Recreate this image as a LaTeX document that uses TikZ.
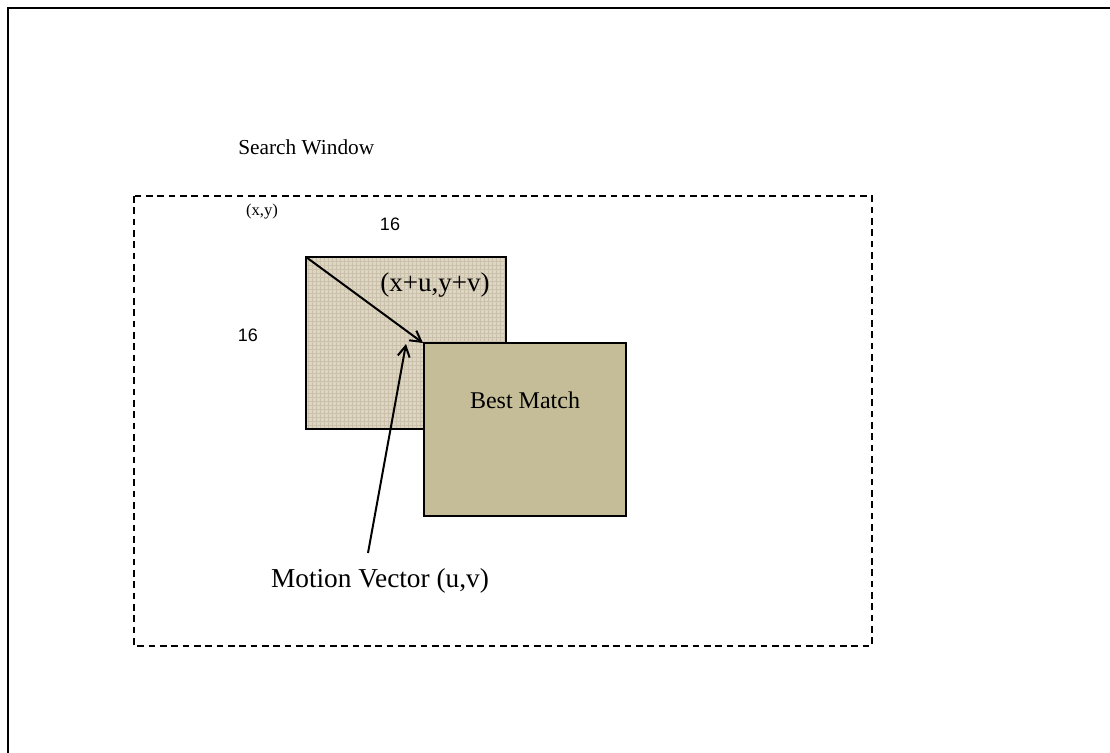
\documentclass[tikz,border=0pt]{standalone}
\usepackage{fontspec}
\setmainfont{Liberation Serif}
\newfontfamily\arialfont{Liberation Sans}
\usetikzlibrary{arrows.meta,patterns}
\definecolor{burlap}{HTML}{DED6C5}
\definecolor{burlapline}{HTML}{CBC1AA}
\definecolor{matchfill}{HTML}{C4BD97}
\tikzset{
  serif/.style={font=\fontsize{#1}{#1}\selectfont, inner sep=0pt},
  sans/.style={font=\arialfont\fontsize{#1}{#1}\selectfont, inner sep=0pt},
  vec/.style={line width=1.5pt, -{Straight Barb[length=8pt,width=9pt]}},
  blockbox/.style={draw=black, line width=1pt},
}
\begin{document}
\begin{tikzpicture}[x=0.75pt,y=-0.75pt]
\useasboundingbox (0,0) rectangle (1110,753);
% outer frame (right and bottom edges lie beyond the picture)
\draw[line width=1.6pt] (8,760) -- (8,8) -- (1120,8);
% search window
\draw[line width=1.1pt, dash pattern=on 5pt off 3.5pt] (134,196) rectangle (872,646);
\node[serif=16pt, anchor=west] (sw) at (238,147) {Search Window};
% 16x16 block
\path[fill=burlap] (306,257) rectangle (506,429);
\path[pattern=grid, pattern color=burlapline] (306,257) rectangle (506,429);
\draw[blockbox] (306,257) rectangle (506,429);
\coordinate (orig) at (306,257);
% best match
\draw[blockbox, fill=matchfill] (424,343) rectangle (626,516);
\coordinate (bm) at (423,343);
\coordinate (bmtip) at (406,344);
\node[serif=18pt] (bmlabel) at (525,400) {Best Match};
% labels
\node[serif=12.5pt] (xy) at (262,212) {(x,y)};
\node[sans=13.5pt] (w16) at (390,224) {16};
\node[sans=13.5pt] (h16) at (248,335) {16};
\node[serif=20.3pt] (xuyv) at (435,285) {(x+u,y+v)};
\node[serif=20.5pt] (mv) at (380,581) {Motion Vector (u,v)};
\coordinate (mvstart) at (368,553);
% vectors
\draw[vec] (orig) -- (bm);
\draw[vec] (mvstart) -- (bmtip);
\end{tikzpicture}
\end{document}
